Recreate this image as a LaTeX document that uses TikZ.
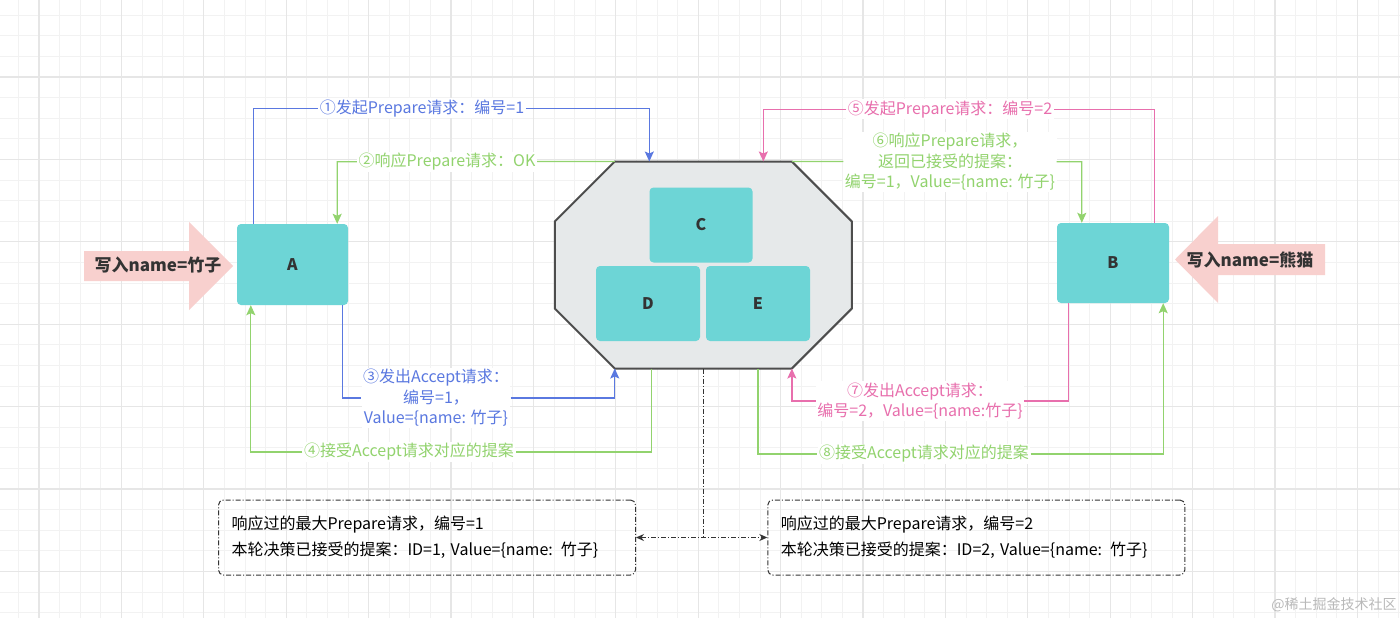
\documentclass[tikz,border=0pt]{standalone}
\usepackage{fontspec}
\setmainfont{Noto Sans CJK SC}
\usetikzlibrary{arrows.meta,positioning,calc}

\definecolor{cellteal}{HTML}{6DD5D6}
\definecolor{clusterfill}{HTML}{E6E9EA}
\definecolor{clusterline}{HTML}{4D4D4D}
\definecolor{pushfill}{HTML}{F8D0CE}
\definecolor{inkdark}{HTML}{333333}
\definecolor{reqblue}{HTML}{5A78E0}
\definecolor{ackgreen}{HTML}{92D36E}
\definecolor{reqpink}{HTML}{E86FAD}
\definecolor{gridfine}{HTML}{F2F2F2}
\definecolor{gridbold}{HTML}{E6E6E6}

\begin{document}
\begin{tikzpicture}[
  x=1pt,y=-1pt,
  cell/.style={rectangle,rounded corners=4pt,fill=cellteal,text=inkdark,
    font=\bfseries\fontsize{16}{19}\selectfont,inner sep=0pt},
  steplbl/.style={fill=white,inner sep=1.5pt,align=center,
    font=\fontsize{16}{20.5}\selectfont},
  flow/.style={line width=1.3pt,-{Stealth[length=10pt,width=9pt,inset=2pt]}},
  memo/.style={draw=inkdark,line width=1pt,rounded corners=5pt,
    dash pattern=on 5pt off 2pt on 1pt off 2pt,
    minimum height=75pt,text width=391pt,inner xsep=13pt,align=left,
    font=\fontsize{16}{26}\selectfont},
  pushtext/.style={text=inkdark,font=\bfseries\fontsize{17}{20}\selectfont},
  linkdash/.style={inkdark,line width=1pt,dash pattern=on 5pt off 2pt on 1pt off 2pt},
  >=Stealth
]
  \useasboundingbox (0,0) rectangle (1400,618);

  % Background grid
  \fill[white] (0,0) rectangle (1400,618);
  \foreach \i in {0,...,67}
    \draw[gridfine,line width=1pt] (18.4+20.6*\i,0) -- (18.4+20.6*\i,618);
  \foreach \j in {0,...,29}
    \draw[gridfine,line width=1pt] (0,15.2+20.6*\j) -- (1400,15.2+20.6*\j);
  \foreach \i in {0,...,16}
    \draw[gridbold,line width=1.3pt] (39+82.4*\i,0) -- (39+82.4*\i,618);
  \foreach \j in {0,...,6}
    \draw[gridbold,line width=1.3pt] (0,77+82.4*\j) -- (1400,77+82.4*\j);

  % Acceptor cluster
  \node[minimum width=296.7pt,minimum height=206.6pt,inner sep=0pt] (cluster) at (703.3,265) {};
  \coordinate (octNW) at ([xshift=60pt]cluster.north west);
  \coordinate (octNE) at ([xshift=-60pt]cluster.north east);
  \coordinate (octSE) at ([xshift=-60pt]cluster.south east);
  \coordinate (octSW) at ([xshift=60pt]cluster.south west);
  \draw[fill=clusterfill,draw=clusterline,line width=2pt,line join=round]
    (octNW) -- (octNE) -- ([yshift=-60pt]cluster.north east)
    -- ([yshift=60pt]cluster.south east) -- (octSE) -- (octSW)
    -- ([yshift=60pt]cluster.south west) -- ([yshift=-60pt]cluster.north west) -- cycle;
  \node[cell,minimum width=103pt,minimum height=75pt] (C) at (701,225) {C};
  \node[cell,minimum width=104pt,minimum height=75pt] (D) at (648,303.5) {D};
  \node[cell,minimum width=104pt,minimum height=75pt] (E) at (758,303.5) {E};

  % Proposers
  \node[cell,minimum width=111pt,minimum height=81pt] (A) at (292.5,264.5) {A};
  \node[cell,minimum width=112pt,minimum height=80pt] (B) at (1113,263) {B};

  % Client writes
  \fill[pushfill] (84,251) -- (189,251) -- (189,222) -- (233,266)
    -- (189,310) -- (189,281) -- (84,281) -- cycle;
  \node[pushtext] (writeA) at (158,265) {写入name=竹子};
  \fill[pushfill] (1325,244) -- (1218,244) -- (1218,216) -- (1175,259.5)
    -- (1218,303) -- (1218,275) -- (1325,275) -- cycle;
  \node[pushtext] (writeB) at (1250,260) {写入name=熊猫};

  % Step labels
  \node[steplbl,text=reqblue] (l1) at (422,108.3) {①发起Prepare请求：编号=1};
  \node[steplbl,text=ackgreen] (l2) at (447,161.7) {②响应Prepare请求：OK};
  \node[steplbl,text=reqblue] (l3) at (436,398) {③发出Accept请求：\\编号=1，\\Value=\{name: 竹子\}};
  \node[steplbl,text=ackgreen] (l4) at (409,452) {④接受Accept请求对应的提案};
  \node[steplbl,text=reqpink] (l5) at (950,109.3) {⑤发起Prepare请求：编号=2};
  \node[steplbl,text=ackgreen] (l6) at (950,161.7) {⑥响应Prepare请求，\\返回已接受的提案：\\编号=1，Value=\{name: 竹子\}};
  \node[steplbl,text=reqpink] (l7) at (920,401) {⑦发出Accept请求：\\编号=2，Value=\{name:竹子\}};
  \node[steplbl,text=ackgreen] (l8) at (924,454) {⑧接受Accept请求对应的提案};

  % Messages
  \draw[flow,reqblue] ([xshift=17pt]A.north west) |- (l1) (l1) -| ([xshift=-54pt]cluster.north);
  \draw[flow,ackgreen] (octNW) -- (l2) (l2) -| ([xshift=-11pt]A.north east);
  \draw[flow,reqblue] ([xshift=-6pt]A.south east) |- (l3) (l3) -| (octSW);
  \draw[flow,ackgreen] ([xshift=-51.6pt]cluster.south) |- (l4) (l4) -| ([xshift=14pt]A.south west);
  \draw[flow,reqpink] ([xshift=-14.5pt]B.north east) |- (l5) (l5) -| ([xshift=60pt]cluster.north);
  \draw[flow,ackgreen] (octNE) -- (l6) (l6) -| ([xshift=25pt]B.north west);
  \draw[flow,reqpink] ([xshift=12pt]B.south west) |- (l7) (l7) -| (octSE);
  \draw[flow,ackgreen] ([xshift=54.7pt]cluster.south) |- (l8) (l8) -| ([xshift=-6pt]B.south east);

  % Acceptor state
  \node[memo] (memA) at (427,537.5) {响应过的最大Prepare请求，编号=1\\本轮决策已接受的提案：ID=1, Value=\{name: 竹子\}};
  \node[memo] (memB) at (976.3,537.5) {响应过的最大Prepare请求，编号=2\\本轮决策已接受的提案：ID=2, Value=\{name: 竹子\}};
  \draw[linkdash] (cluster.south) -- (cluster.south |- memA.east);
  \draw[linkdash,{Stealth[length=8pt,width=7pt]}-{Stealth[length=8pt,width=7pt]}] (memA) -- (memB);

  \node[text=gray!55,font=\fontsize{14}{16}\selectfont] (mark) at (1334,605) {@稀土掘金技术社区};
\end{tikzpicture}
\end{document}
